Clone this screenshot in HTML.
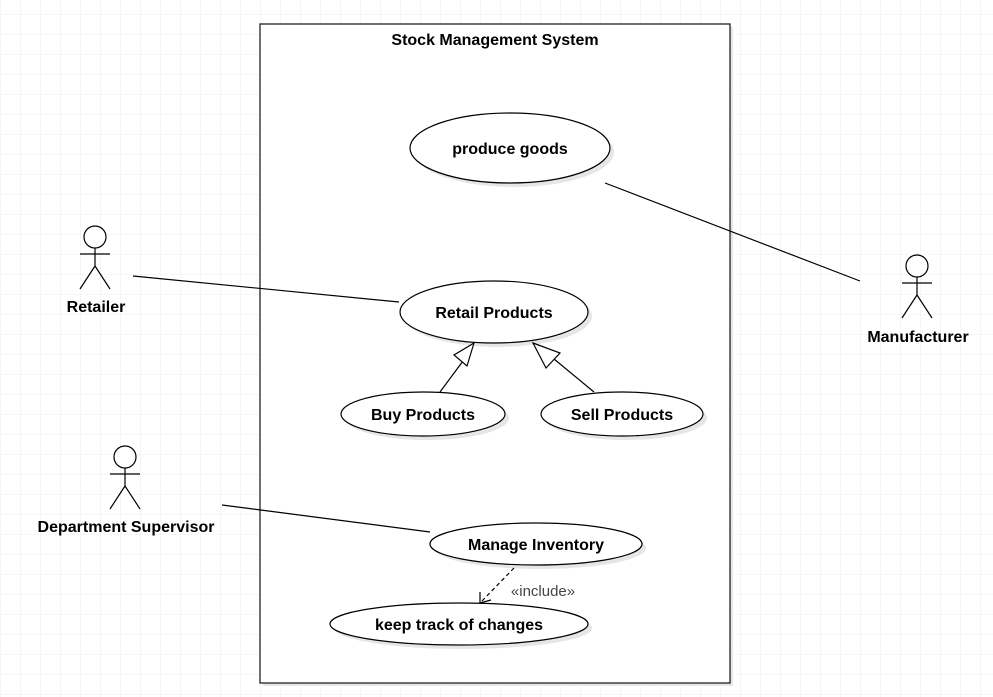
<!DOCTYPE html>
<html><head><style>
body{margin:0;background:#fff}
svg{display:block}
text{font-family:"Liberation Sans",sans-serif;font-size:16px;font-weight:bold;fill:#000;text-anchor:middle}
</style></head><body>
<svg width="993" height="697" viewBox="0 0 993 697" xmlns="http://www.w3.org/2000/svg">
<defs>
<pattern id="g" width="20" height="20" patternUnits="userSpaceOnUse" x="0" y="14">
<path d="M0 0H20M0 0V20" stroke="#ececec" stroke-width="1" fill="none"/>
</pattern>
</defs>
<rect width="993" height="697" fill="url(#g)"/>
<rect x="263" y="27" width="470" height="659" fill="#e6e6e6"/>
<rect x="260" y="24" width="470" height="659" fill="#fff" stroke="#222" stroke-width="1.3"/>
<text x="495" y="45" style="font-size:16px">Stock Management System</text>

<g fill="#e6e6e6">
<ellipse cx="514" cy="152" rx="100" ry="35"/>
<ellipse cx="498" cy="316" rx="94" ry="31"/>
<ellipse cx="427" cy="418" rx="82" ry="22"/>
<ellipse cx="626" cy="418" rx="81" ry="22"/>
<ellipse cx="540" cy="548" rx="106" ry="21"/>
<ellipse cx="463" cy="628" rx="129" ry="21"/>
</g>
<g fill="#fff" stroke="#000" stroke-width="1.2">
<ellipse cx="510" cy="148" rx="100" ry="35"/>
<ellipse cx="494" cy="312" rx="94" ry="31"/>
<ellipse cx="423" cy="414" rx="82" ry="22"/>
<ellipse cx="622" cy="414" rx="81" ry="22"/>
<ellipse cx="536" cy="544" rx="106" ry="21"/>
<ellipse cx="459" cy="624" rx="129" ry="21"/>
</g>
<text x="510" y="154">produce goods</text>
<text x="494" y="318">Retail Products</text>
<text x="423" y="420">Buy Products</text>
<text x="622" y="420">Sell Products</text>
<text x="536" y="550">Manage Inventory</text>
<text x="459" y="630">keep track of changes</text>

<g stroke="#000" stroke-width="1.2" fill="none">
<line x1="133" y1="276" x2="399" y2="302"/>
<line x1="605" y1="183" x2="860" y2="281"/>
<line x1="222" y1="505" x2="430" y2="532"/>
<line x1="440" y1="392" x2="463" y2="361"/>
<polygon points="474,343 454,355 467,366" fill="#fff"/>
<line x1="594" y1="392" x2="554" y2="359"/>
<polygon points="533,343 560,353 546,368" fill="#fff"/>
<line x1="514" y1="568" x2="481" y2="602" stroke-dasharray="4,3"/>
<polyline points="480,592 480,603 491,600"/>
</g>
<text x="543" y="596" style="font-weight:normal;fill:#444;font-size:15px">«include»</text>

<g stroke="#000" stroke-width="1.2" fill="#fff">
<circle cx="95" cy="237" r="11"/>
<path d="M95 248V266M80 254H110M95 266L80 289M95 266L110 289" fill="none"/>
<circle cx="917" cy="266" r="11"/>
<path d="M917 277V295M902 283H932M917 295L902 318M917 295L932 318" fill="none"/>
<circle cx="125" cy="457" r="11"/>
<path d="M125 468V486M110 474H140M125 486L110 509M125 486L140 509" fill="none"/>
</g>
<text x="96" y="312">Retailer</text>
<text x="918" y="342">Manufacturer</text>
<text x="126" y="532">Department Supervisor</text>
</svg>
</body></html>
